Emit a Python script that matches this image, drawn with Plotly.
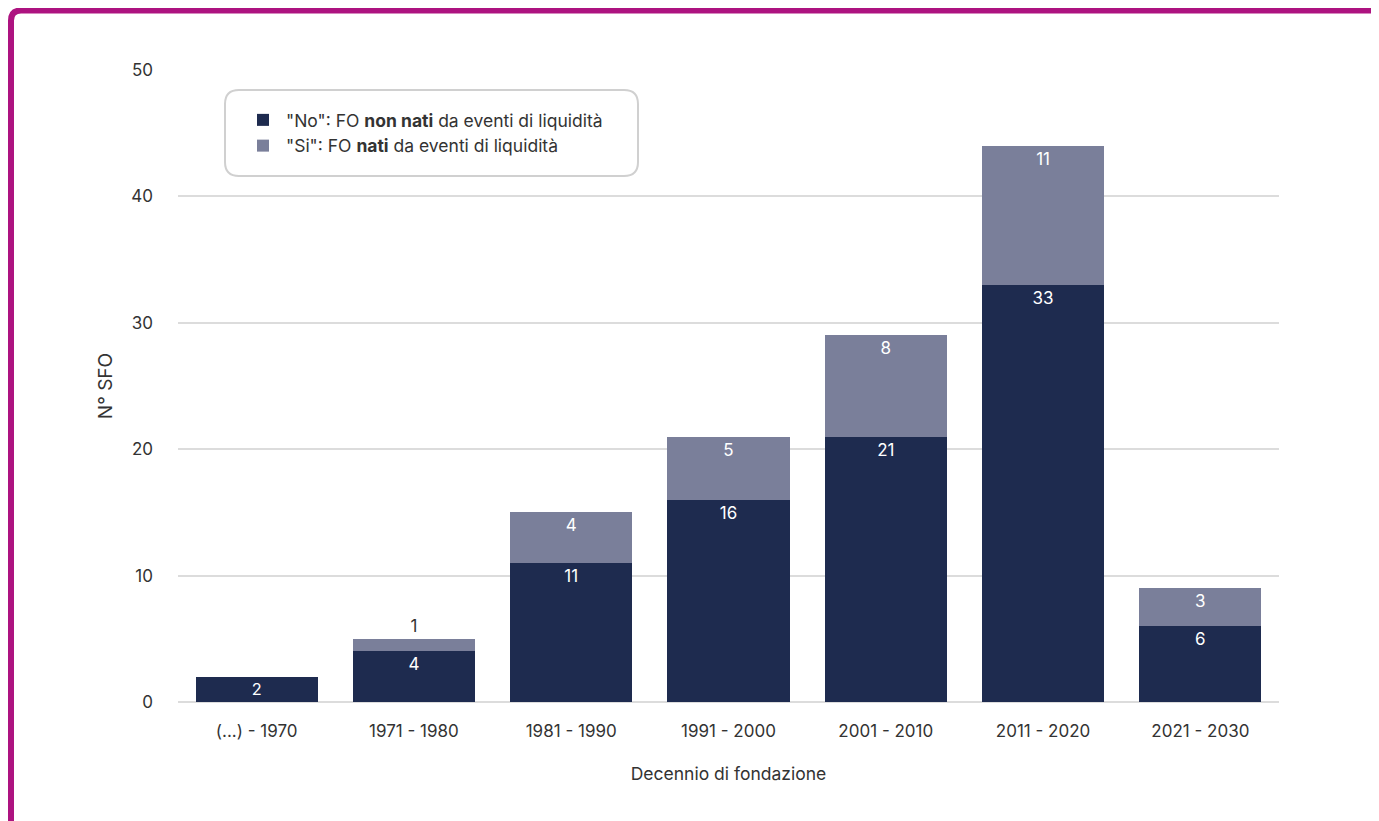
import plotly.graph_objects as go

categories = ["(...) - 1970", "1971 - 1980", "1981 - 1990", "1991 - 2000",
              "2001 - 2010", "2011 - 2020", "2021 - 2030"]
no_values = [2, 4, 11, 16, 21, 33, 6]
si_values = [0, 1, 4, 5, 8, 11, 3]
y_ticks = [0, 10, 20, 30, 40, 50]

name_no = '"No": FO <b>non nati</b> da eventi di liquidità'
name_si = '"Si": FO <b>nati</b> da eventi di liquidità'

DARK = "#1E2B4F"
GREY = "#7A7F9A"
FONT = "Inter"
TXT = "#333333"

W, H = 1379, 821
OFF = 8  # page body margin
# plot area in page pixels
PL, PR, PT, PB = 178, 1279, 70, 702
ML = PL - OFF
MT = PT - OFF
MR = W - (PR - OFF)
MB = H - (PB - OFF)
PW = PR - PL
PH = PB - PT


def px(x):
    return (x - PL) / PW


def py(y):
    return (PB - y) / PH


def rounded_path(x0, y0, x1, y1, r):
    pts = [
        f"M {px(x0 + r)},{py(y0)}",
        f"L {px(x1 - r)},{py(y0)}",
        f"Q {px(x1)},{py(y0)} {px(x1)},{py(y0 + r)}",
        f"L {px(x1)},{py(y1 - r)}",
        f"Q {px(x1)},{py(y1)} {px(x1 - r)},{py(y1)}",
        f"L {px(x0 + r)},{py(y1)}",
        f"Q {px(x0)},{py(y1)} {px(x0)},{py(y1 - r)}",
        f"L {px(x0)},{py(y0 + r)}",
        f"Q {px(x0)},{py(y0)} {px(x0 + r)},{py(y0)}",
        "Z",
    ]
    return " ".join(pts)


no_text = [str(v) if v else "" for v in no_values]
si_text = [str(v) if v else "" for v in si_values]
si_pos = ["outside" if v <= 1 else "inside" for v in si_values]

fig = go.Figure()
fig.add_trace(go.Bar(
    x=categories, y=no_values, name=name_no, marker_color=DARK,
    marker_line_width=0,
    text=no_text, textposition="inside", insidetextanchor="end",
    textangle=0,
    insidetextfont=dict(color="white", size=17, family=FONT),
    hoverinfo="skip",
))
fig.add_trace(go.Bar(
    x=categories, y=si_values, name=name_si, marker_color=GREY,
    marker_line_width=0,
    text=si_text, textposition=si_pos, insidetextanchor="end",
    textangle=0, cliponaxis=False,
    insidetextfont=dict(color="white", size=17, family=FONT),
    outsidetextfont=dict(color=TXT, size=17, family=FONT),
    hoverinfo="skip",
))

shapes = [
    dict(type="path", xref="paper", yref="paper",
         path=rounded_path(225, 90, 638, 176, 14),
         line=dict(color="#D0D0D0", width=2), fillcolor="rgba(0,0,0,0)",
         layer="above"),
    dict(type="path", xref="paper", yref="paper",
         path=rounded_path(11, 10.5, 1420, 880, 10),
         line=dict(color="#AD1380", width=6), fillcolor="rgba(0,0,0,0)",
         layer="above"),
]

fig.update_layout(
    width=W, height=H,
    margin=dict(l=ML, r=MR, t=MT, b=MB, autoexpand=False),
    paper_bgcolor="white", plot_bgcolor="white",
    barmode="stack", bargap=0.224,
    font=dict(family=FONT, size=17, color=TXT),
    showlegend=True,
    legend=dict(x=px(240), y=py(102), xanchor="left", yanchor="top",
                bgcolor="rgba(0,0,0,0)", borderwidth=0,
                traceorder="normal", tracegroupgap=0,
                font=dict(family=FONT, size=17.5, color=TXT),
                itemwidth=36),
    xaxis=dict(
        showgrid=False, showline=False, ticks="", ticklabelstandoff=17,
        tickfont=dict(size=17, color=TXT),
        title=dict(text="Decennio di fondazione", standoff=27,
                   font=dict(size=17.5, color=TXT)),
        automargin=False,
    ),
    yaxis=dict(
        range=[0, 50], tickvals=y_ticks, showgrid=True,
        gridcolor="#DCDCDC", gridwidth=2, zeroline=True,
        zerolinecolor="#DCDCDC", zerolinewidth=2, showline=False,
        ticks="", ticklabelstandoff=24,
        tickfont=dict(size=17, color=TXT),
        title=dict(text="N° SFO", standoff=13,
                   font=dict(size=19, color=TXT)),
        automargin=False,
    ),
    shapes=shapes,
)

fig.write_html("out.html")
